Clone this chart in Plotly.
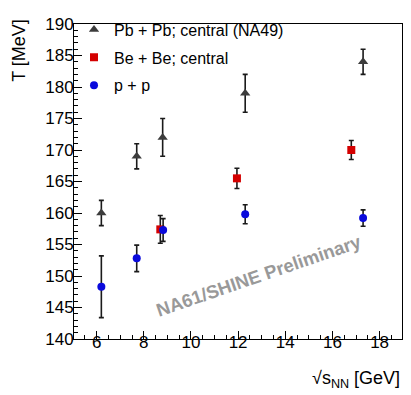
import plotly.graph_objects as go

# Pb + Pb; central (NA49)
pb_x = [6.2, 7.7, 8.8, 12.3, 17.3]
pb_y = [160.0, 169.0, 172.0, 179.0, 184.0]
pb_err = [2.0, 2.0, 3.0, 3.0, 2.0]

# Be + Be; central
be_x = [8.7, 11.95, 16.8]
be_y = [157.4, 165.5, 170.0]
be_err = [2.2, 1.6, 1.5]

# p + p
pp_x = [6.2, 7.7, 8.82, 12.3, 17.3]
pp_y = [148.3, 152.8, 157.3, 159.8, 159.2]
pp_err = [4.9, 2.1, 1.8, 1.5, 1.3]

x_ticks = [6, 8, 10, 12, 14, 16, 18]
y_ticks = [140, 145, 150, 155, 160, 165, 170, 175, 180, 185, 190]

FONT = "Liberation Sans, Arial, Helvetica, sans-serif"
ERR = dict(type="data", thickness=1.6, width=2.5, color="#1a1a1a")

fig = go.Figure()
fig.add_trace(go.Scatter(
    x=pb_x, y=pb_y, mode="markers", name="Pb + Pb; central (NA49)",
    legendgroup="a",
    marker=dict(symbol="triangle-up", size=9, color="#3c3c3c"),
    error_y=dict(array=pb_err, **ERR)))
fig.add_trace(go.Scatter(
    x=be_x, y=be_y, mode="markers", name="Be + Be; central",
    legendgroup="b",
    marker=dict(symbol="square", size=8, color="#d40000"),
    error_y=dict(array=be_err, **ERR)))
fig.add_trace(go.Scatter(
    x=pp_x, y=pp_y, mode="markers", name="p + p",
    legendgroup="c",
    marker=dict(symbol="circle", size=8, color="#0a0adc"),
    error_y=dict(array=pp_err, **ERR)))

axis_common = dict(
    showgrid=False, zeroline=False, showline=True, linecolor="black",
    linewidth=1, mirror=True, ticks="inside", ticklen=8, tickwidth=1,
    tickcolor="black", tickfont=dict(family=FONT, size=17, color="black"),
    automargin=False,
)

fig.update_xaxes(range=[5.04, 18.95], tickvals=x_ticks, ticklabelstandoff=-12,
                 minor=dict(dtick=0.5, ticks="inside", ticklen=4,
                            tickcolor="black", tickwidth=1, tick0=5),
                 **axis_common)
fig.update_yaxes(range=[140, 190], tickvals=y_ticks, ticklabelstandoff=-4,
                 minor=dict(dtick=1, ticks="inside", ticklen=4,
                            tickcolor="black", tickwidth=1, tick0=140),
                 **axis_common)

fig.update_layout(
    width=411, height=395,
    margin=dict(l=66, r=17, t=16, b=64, autoexpand=False),
    paper_bgcolor="white", plot_bgcolor="white",
    font=dict(family=FONT, color="black"),
    showlegend=True,
    legend=dict(x=0.0, y=1.036, xanchor="left", yanchor="top",
                bgcolor="rgba(0,0,0,0)", borderwidth=0,
                font=dict(family=FONT, size=16, color="black"),
                tracegroupgap=4, itemwidth=30),
    annotations=[
        dict(text="T [MeV]", textangle=-90, xref="paper", yref="paper",
             x=-0.17, y=1.022, xanchor="center", yanchor="top",
             showarrow=False, font=dict(family=FONT, size=18, color="black")),
        dict(text="√s<sub>NN</sub> [GeV]",
             xref="paper", yref="paper", x=1.0, y=-0.13,
             xanchor="right", yanchor="middle", showarrow=False,
             font=dict(family=FONT, size=18, color="black")),
        dict(text="<b>NA61/SHINE Preliminary</b>", textangle=-19,
             xref="x", yref="y", x=12.9, y=150.1, showarrow=False,
             font=dict(family=FONT, size=18.5, color="#999999")),
    ],
)

fig.write_html("out.html")
